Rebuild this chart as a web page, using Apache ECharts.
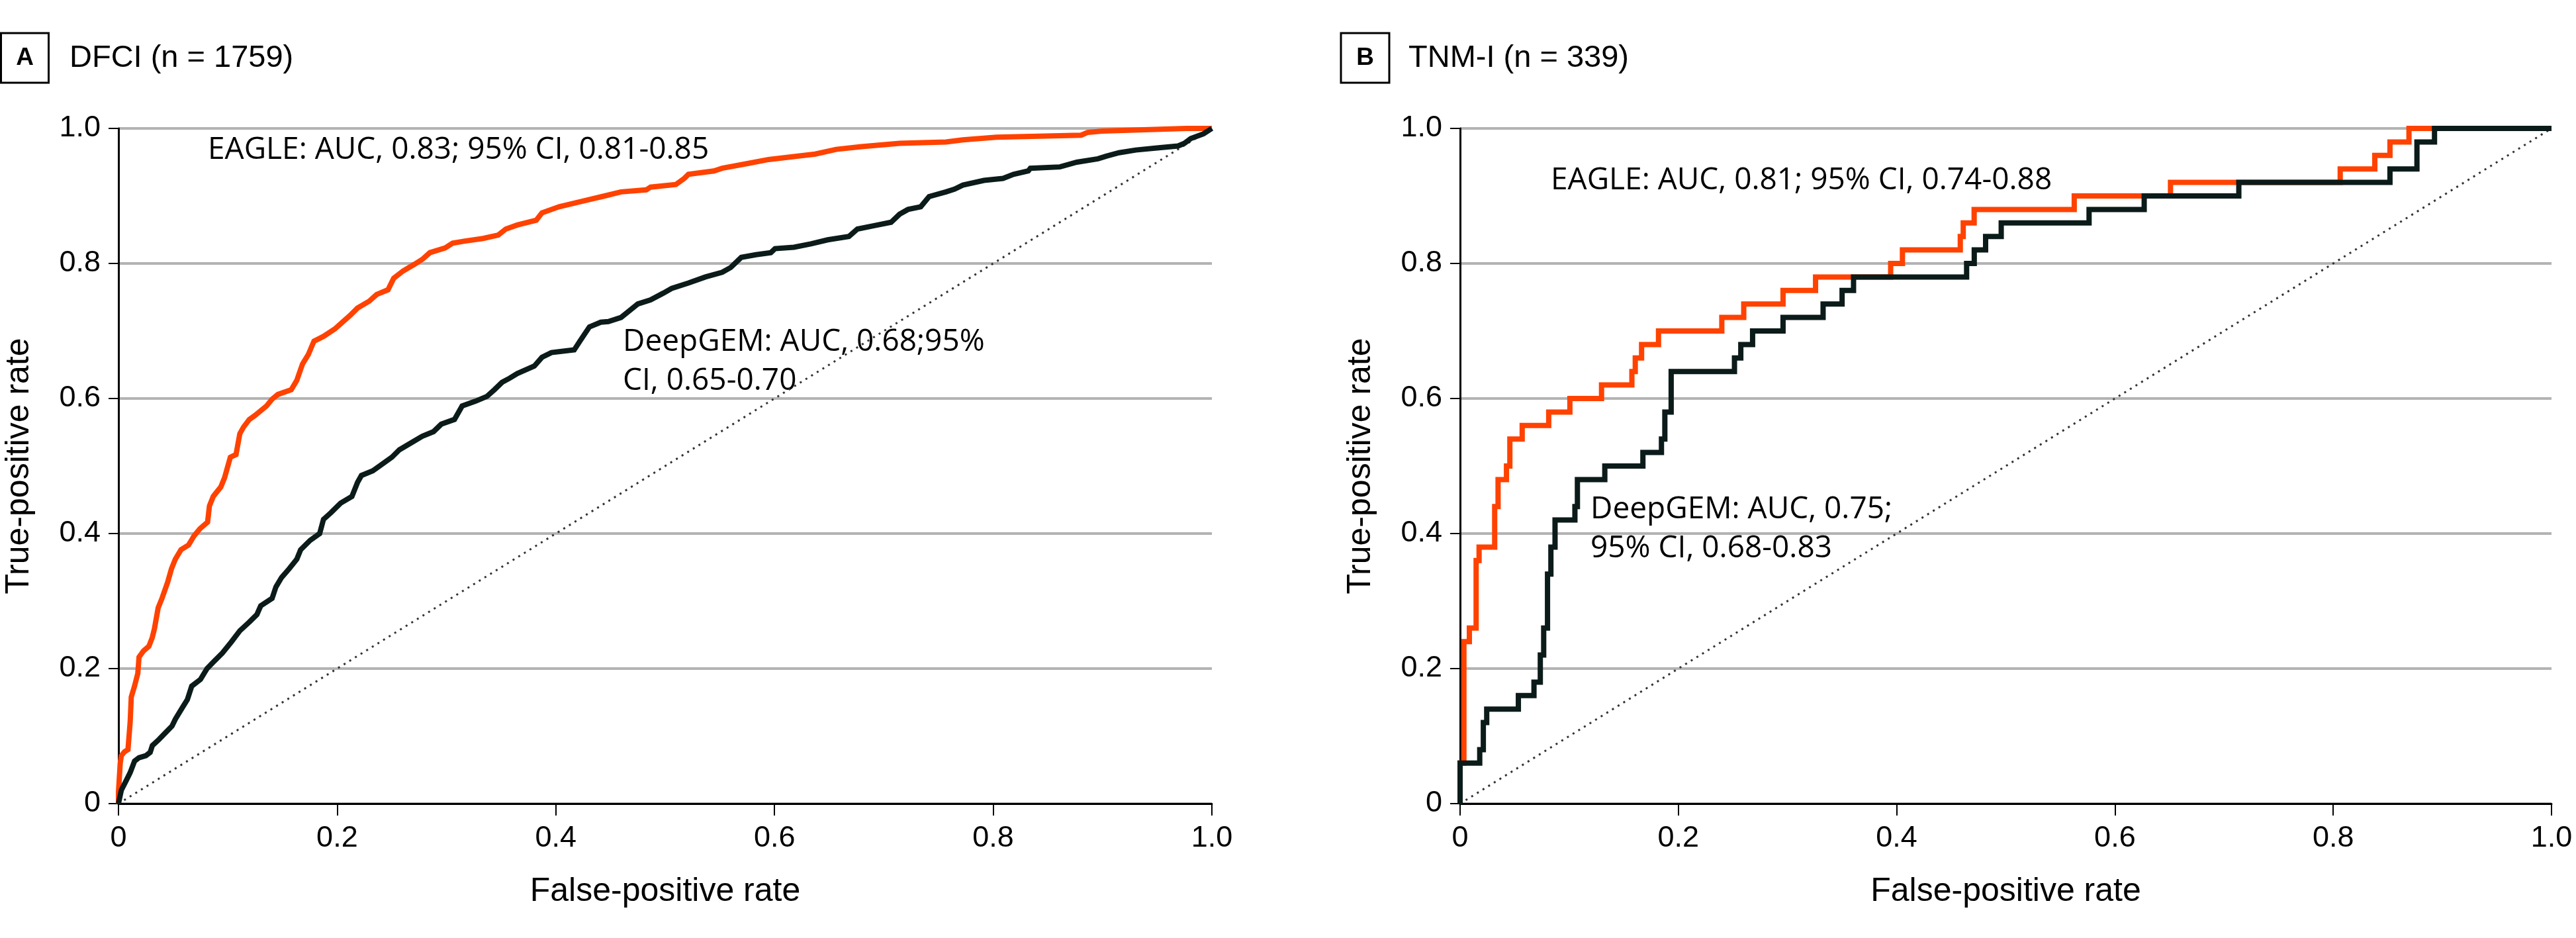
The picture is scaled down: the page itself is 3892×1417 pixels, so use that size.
<!DOCTYPE html>
<html>
<head>
<meta charset="utf-8">
<title>ROC curves</title>
<script src="https://cdn.jsdelivr.net/npm/echarts@6/dist/echarts.min.js"></script>
<style>
  html, body { margin: 0; padding: 0; background: #fff; }
  #chart { width: 3892px; height: 1417px; }
</style>
</head>
<body>
<div id="chart"></div>
<script>
// panel A: DFCI cohort
var eagleA = [[0,0],[0,0.017],[0.0016,0.06],[0.0026,0.071],[0.0056,0.077],[0.0087,0.08],[0.0107,0.121],[0.0117,0.158],[0.0147,0.174],[0.0177,0.193],[0.0188,0.217],[0.0228,0.226],[0.0278,0.233],[0.0309,0.246],[0.0329,0.259],[0.0363,0.29],[0.0398,0.304],[0.045,0.328],[0.0485,0.348],[0.052,0.362],[0.0572,0.376],[0.0641,0.383],[0.0693,0.397],[0.0745,0.407],[0.0815,0.417],[0.0832,0.441],[0.0867,0.455],[0.0936,0.469],[0.0971,0.483],[0.1023,0.513],[0.1075,0.517],[0.111,0.548],[0.1145,0.558],[0.1197,0.569],[0.1249,0.575],[0.1354,0.589],[0.1405,0.599],[0.1458,0.606],[0.158,0.613],[0.1631,0.627],[0.1683,0.651],[0.1736,0.665],[0.1788,0.685],[0.1875,0.692],[0.1979,0.703],[0.2048,0.713],[0.2118,0.723],[0.2187,0.734],[0.2292,0.744],[0.2361,0.754],[0.2465,0.761],[0.2517,0.778],[0.2604,0.789],[0.2709,0.799],[0.2778,0.806],[0.2848,0.816],[0.2987,0.823],[0.3056,0.83],[0.316,0.833],[0.3334,0.837],[0.3473,0.842],[0.3543,0.851],[0.3647,0.857],[0.3821,0.864],[0.3873,0.875],[0.403,0.884],[0.4238,0.892],[0.4446,0.9],[0.4596,0.906],[0.4827,0.909],[0.4866,0.913],[0.5098,0.917],[0.5175,0.926],[0.5213,0.932],[0.5445,0.937],[0.5522,0.941],[0.5754,0.948],[0.5947,0.954],[0.6217,0.959],[0.6372,0.962],[0.6565,0.969],[0.6796,0.973],[0.7144,0.978],[0.7568,0.98],[0.7723,0.983],[0.8031,0.987],[0.8804,0.99],[0.8862,0.994],[0.8997,0.996],[0.9769,1.0],[1,1]];

var deepgemA = [[0,0],[0.0026,0.02],[0.0067,0.033],[0.0107,0.046],[0.0147,0.063],[0.0188,0.068],[0.025,0.071],[0.029,0.076],[0.031,0.086],[0.037,0.095],[0.043,0.105],[0.049,0.115],[0.052,0.125],[0.058,0.141],[0.063,0.154],[0.067,0.174],[0.075,0.184],[0.081,0.2],[0.087,0.21],[0.095,0.223],[0.103,0.239],[0.111,0.256],[0.1197,0.269],[0.1266,0.28],[0.1301,0.293],[0.1405,0.304],[0.144,0.321],[0.1492,0.335],[0.1562,0.348],[0.1631,0.362],[0.1666,0.376],[0.1753,0.39],[0.184,0.4],[0.1875,0.421],[0.1944,0.431],[0.2031,0.445],[0.2135,0.455],[0.2187,0.476],[0.2222,0.486],[0.2326,0.493],[0.2413,0.503],[0.25,0.513],[0.2569,0.524],[0.2674,0.534],[0.2778,0.544],[0.2882,0.551],[0.2952,0.562],[0.3073,0.569],[0.3143,0.589],[0.3265,0.596],[0.3369,0.603],[0.3438,0.613],[0.3508,0.624],[0.3577,0.63],[0.3647,0.637],[0.3803,0.648],[0.3873,0.661],[0.396,0.668],[0.4168,0.672],[0.422,0.685],[0.4307,0.706],[0.4411,0.713],[0.448,0.714],[0.4596,0.72],[0.4673,0.73],[0.475,0.74],[0.4866,0.746],[0.4982,0.756],[0.5059,0.763],[0.5213,0.771],[0.5368,0.78],[0.5522,0.787],[0.5599,0.794],[0.5696,0.809],[0.5831,0.813],[0.5966,0.816],[0.6005,0.822],[0.6178,0.824],[0.6333,0.829],[0.6487,0.835],[0.668,0.84],[0.6758,0.851],[0.6912,0.856],[0.7066,0.861],[0.7144,0.873],[0.7221,0.88],[0.7337,0.884],[0.7414,0.899],[0.7568,0.906],[0.7645,0.91],[0.7723,0.916],[0.7916,0.923],[0.809,0.926],[0.8186,0.932],[0.8321,0.937],[0.834,0.941],[0.861,0.943],[0.8765,0.95],[0.8958,0.955],[0.9035,0.959],[0.9151,0.964],[0.9305,0.968],[0.9498,0.971],[0.9691,0.974],[0.9749,0.978],[0.9807,0.985],[0.9923,0.992],[1,1]];

// panel B: TNM-I cohort, step corners (fpr where tpr rises, new tpr)
var eagleB = [[0,0],[0,0.06],[0.0035,0.24],[0.0085,0.26],[0.0147,0.36],[0.0174,0.38],[0.0317,0.44],[0.0348,0.48],[0.0425,0.50],[0.0456,0.54],[0.0569,0.56],[0.0812,0.58],[0.1006,0.60],[0.1296,0.62],[0.1574,0.64],[0.1605,0.66],[0.1663,0.68],[0.1818,0.70],[0.2398,0.72],[0.2599,0.74],[0.2959,0.76],[0.3257,0.78],[0.3945,0.80],[0.4053,0.82],[0.4583,0.84],[0.461,0.86],[0.471,0.88],[0.5627,0.90],[0.6509,0.92],[0.8064,0.94],[0.8381,0.96],[0.852,0.98],[0.8694,1.0],[1,1]];

var deepgemB = [[0,0],[0,0.06],[0.018,0.08],[0.0213,0.12],[0.0244,0.14],[0.0534,0.16],[0.0677,0.18],[0.0735,0.22],[0.0766,0.26],[0.0801,0.34],[0.0832,0.38],[0.087,0.42],[0.1052,0.44],[0.1075,0.48],[0.1326,0.50],[0.1675,0.52],[0.1845,0.54],[0.1876,0.58],[0.1934,0.64],[0.2514,0.66],[0.2572,0.68],[0.268,0.70],[0.2959,0.72],[0.3326,0.74],[0.35,0.76],[0.3605,0.78],[0.4641,0.80],[0.4711,0.82],[0.4815,0.84],[0.4958,0.86],[0.5763,0.88],[0.6268,0.90],[0.7135,0.92],[0.852,0.94],[0.8767,0.98],[0.8928,1.0],[1,1]];

var chance = [[0,0],[1,1]];
var ticks = [0, 0.2, 0.4, 0.6, 0.8, 1.0];

var ORANGE = "#ff4200";
var DARK = "#0b1b19";
var FONT = "Liberation Sans";
var NOTE = "Open Sans";

var chart = echarts.init(document.getElementById("chart"));

function tickFmt(v) {
  return v === 0 ? "0" : v.toFixed(1);
}

function makeX(idx) {
  return {
    type: "value", gridIndex: idx, min: 0, max: 1, interval: 0.2,
    name: "False-positive rate", nameLocation: "middle", nameGap: 108,
    nameTextStyle: { fontFamily: FONT, fontSize: 50, color: "#000" },
    axisLine: { lineStyle: { color: "#000", width: 3 } },
    axisTick: { length: 18, lineStyle: { color: "#000", width: 2 } },
    axisLabel: { fontFamily: FONT, fontSize: 45, color: "#000", margin: 30, formatter: tickFmt },
    splitLine: { show: false }
  };
}

function makeY(idx) {
  return {
    type: "value", gridIndex: idx, min: 0, max: 1, interval: 0.2,
    name: "True-positive rate", nameLocation: "middle", nameGap: 125, nameRotate: 90,
    nameTextStyle: { fontFamily: FONT, fontSize: 50, color: "#000" },
    axisLine: { show: true, lineStyle: { color: "#000", width: 3 } },
    axisTick: { show: true, length: 15, lineStyle: { color: "#000", width: 2 } },
    axisLabel: { fontFamily: FONT, fontSize: 45, color: "#000", margin: 27, formatter: tickFmt },
    splitLine: { show: true, lineStyle: { color: "#b3b3b3", width: 4 } }
  };
}

function curve(name, data, color, idx, step) {
  return {
    name: name, type: "line", xAxisIndex: idx, yAxisIndex: idx,
    data: data, step: step ? "end" : false, showSymbol: false, symbol: "none",
    lineStyle: { color: color, width: 8, join: "miter" },
    silent: true, animation: false
  };
}

function diag(idx) {
  return {
    type: "line", xAxisIndex: idx, yAxisIndex: idx, data: chance,
    showSymbol: false, symbol: "none", silent: true, animation: false,
    lineStyle: { color: "#333", width: 3, type: [3, 7] }
  };
}

function txt(x, y, s, font, align, valign, lh) {
  return {
    type: "text", x: x, y: y,
    style: {
      text: s, font: font, fill: "#000",
      align: align, textAlign: align,
      verticalAlign: valign, textVerticalAlign: valign,
      lineHeight: lh
    }
  };
}

var option = {
  backgroundColor: "#fff",
  animation: false,
  grid: [
    { left: 179, right: 2061, top: 194, bottom: 203 },
    { left: 2206, right: 37, top: 194, bottom: 203 }
  ],
  xAxis: [makeX(0), makeX(1)],
  yAxis: [makeY(0), makeY(1)],
  series: [
    diag(0),
    curve("EAGLE", eagleA, ORANGE, 0, false),
    curve("DeepGEM", deepgemA, DARK, 0, false),
    diag(1),
    curve("EAGLE", eagleB, ORANGE, 1, true),
    curve("DeepGEM", deepgemB, DARK, 1, true)
  ],
  graphic: [
    // panel letters in boxes
    { type: "rect", shape: { x: 1.5, y: 50, width: 72, height: 75 }, style: { fill: "none", stroke: "#000", lineWidth: 3 } },
    txt(37.5, 88, "A", "bold 37px " + FONT, "center", "middle"),
    txt(105, 88, "DFCI (n = 1759)", "47px " + FONT, "left", "middle"),
    { type: "rect", shape: { x: 2026, y: 50, width: 73, height: 75 }, style: { fill: "none", stroke: "#000", lineWidth: 3 } },
    txt(2062.5, 88, "B", "bold 37px " + FONT, "center", "middle"),
    txt(2128, 88, "TNM-I (n = 339)", "47px " + FONT, "left", "middle"),
    // annotations
    txt(314, 227, "EAGLE: AUC, 0.83; 95% CI, 0.81-0.85", "46px '" + NOTE + "'", "left", "middle"),
    txt(941, 487, "DeepGEM: AUC, 0.68;95%\nCI, 0.65-0.70", "46px '" + NOTE + "'", "left", "top", 59),
    txt(2343, 273, "EAGLE: AUC, 0.81; 95% CI, 0.74-0.88", "46px '" + NOTE + "'", "left", "middle"),
    txt(2403, 740, "DeepGEM: AUC, 0.75;\n95% CI, 0.68-0.83", "46px '" + NOTE + "'", "left", "top", 59)
  ]
};

chart.setOption(option);
</script>
</body>
</html>
